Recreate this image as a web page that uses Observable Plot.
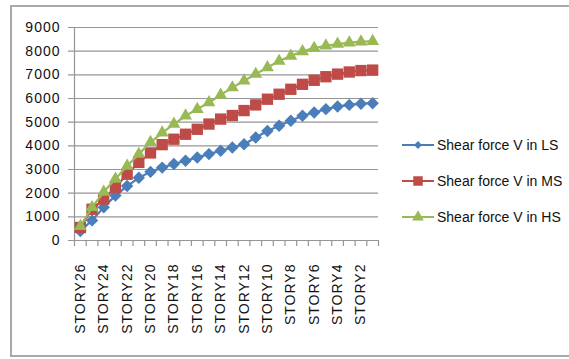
<!DOCTYPE html>
<html><head><meta charset="utf-8">
<script src="https://cdn.jsdelivr.net/npm/d3@7"></script>
<script src="https://cdn.jsdelivr.net/npm/@observablehq/plot@0.6"></script>
<style>
body{margin:0;background:#fff;}
#wrap{position:relative;width:569px;height:359px;font-family:"Liberation Sans",Arial,sans-serif;overflow:hidden;}
#frame{position:absolute;left:10px;top:5px;width:580px;height:352px;border:2px solid #a9a9a9;box-sizing:border-box;}
#chart{position:absolute;left:0;top:0;}
#legend{position:absolute;left:402px;top:127px;}
.item{display:flex;align-items:center;height:36px;font-size:14px;color:#111;white-space:nowrap;}
.item svg{margin-right:2px;}
</style></head><body>
<div id="wrap"><div id="frame"></div><div id="chart"></div><div id="legend"></div></div>
<script>
const categories = ["STORY26","STORY25","STORY24","STORY23","STORY22","STORY21","STORY20","STORY19","STORY18","STORY17","STORY16","STORY15","STORY14","STORY13","STORY12","STORY11","STORY10","STORY9","STORY8","STORY7","STORY6","STORY5","STORY4","STORY3","STORY2","STORY1"];
const shearLS = [400, 850, 1400, 1900, 2300, 2650, 2900, 3080, 3230, 3370, 3510, 3650, 3790, 3930, 4070, 4350, 4630, 4850, 5060, 5270, 5410, 5550, 5660, 5730, 5780, 5800];
const shearMS = [550, 1320, 1750, 2250, 2800, 3300, 3700, 4050, 4280, 4490, 4700, 4920, 5130, 5280, 5490, 5730, 5970, 6180, 6390, 6600, 6770, 6920, 7030, 7120, 7180, 7200];
const shearHS = [600, 1400, 2050, 2600, 3150, 3650, 4150, 4550, 4920, 5270, 5550, 5830, 6150, 6460, 6750, 7030, 7310, 7580, 7800, 7990, 8130, 8230, 8300, 8360, 8400, 8420];
const seriesNames = ["Shear force V in LS", "Shear force V in MS", "Shear force V in HS"];
const seriesColors = ["#4a7ebb", "#be4b48", "#98b954"];
const seriesSymbols = ["diamond2", "square", "triangle"];
const seriesRadius = [5.6, 6.4, 4.8];
const yTicks = [0, 1000, 2000, 3000, 4000, 5000, 6000, 7000, 8000, 9000];

const seriesValues = [shearLS, shearMS, shearHS];
const rows = seriesValues.flatMap((vals, s) => vals.map((v, i) => ({i, story: categories[i], value: v, series: seriesNames[s]})));
const idx = categories.map((d, i) => i);
const boundaries = d3.range(categories.length + 1).map(i => i - 0.5);

const marks = [
  Plot.ruleY(yTicks, {stroke: "#969696", strokeWidth: 1.2, insetLeft: -6}),
  Plot.ruleX([-0.5], {y1: 0, y2: yTicks[yTicks.length - 1], stroke: "#969696", strokeWidth: 1.2}),
  Plot.ruleX(boundaries, {y1: 0, y2: 0, insetBottom: -6, stroke: "#969696", strokeWidth: 1.2}),
  Plot.axisY({ticks: yTicks, tickSize: 0, tickPadding: 14, tickFormat: d => String(d), fill: "#111", label: null}),
  Plot.axisX({ticks: idx.filter(i => i % 2 === 0), tickFormat: i => categories[i], tickRotate: -90, tickSize: 0, tickPadding: 23, fill: "#111", label: null})
];
seriesNames.forEach((name, s) => {
  const data = rows.filter(r => r.series === name);
  marks.push(Plot.line(data, {x: "i", y: "value", stroke: seriesColors[s], strokeWidth: 2.2}));
  marks.push(Plot.dot(data, {x: "i", y: "value", symbol: () => seriesSymbols[s], r: seriesRadius[s], fill: seriesColors[s], stroke: "none"}));
});

const chart = Plot.plot({
  width: 569, height: 359,
  marginLeft: 74, marginRight: 191, marginTop: 27, marginBottom: 119,
  style: {fontFamily: "'Liberation Sans', Arial, sans-serif", fontSize: "14px", letterSpacing: "1px", background: "transparent", color: "#111"},
  x: {type: "linear", domain: [-0.5, categories.length - 0.5], axis: null, label: null},
  y: {domain: [0, yTicks[yTicks.length - 1]], axis: null, label: null},
  symbol: {type: "identity"},
  marks
});
document.getElementById("chart").appendChild(chart);

const legend = d3.select("#legend");
seriesNames.forEach((name, s) => {
  const item = legend.append("div").attr("class", "item");
  const svg = item.append("svg").attr("width", 33).attr("height", 16);
  svg.append("line").attr("x1", 0).attr("x2", 32).attr("y1", 8).attr("y2", 8).attr("stroke", seriesColors[s]).attr("stroke-width", 2);
  const sym = {diamond2: d3.symbolDiamond2, square: d3.symbolSquare, triangle: d3.symbolTriangle}[seriesSymbols[s]];
  const size = [40, 90, 60][s];
  svg.append("path").attr("d", d3.symbol(sym, size)()).attr("transform", "translate(16,8)").attr("fill", seriesColors[s]);
  item.append("span").text(name);
});
</script>
</body></html>
